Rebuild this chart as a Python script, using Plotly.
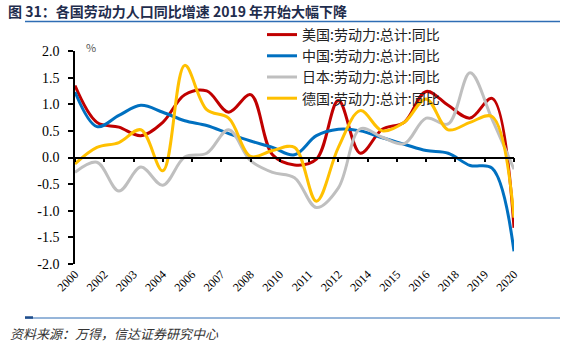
import plotly.graph_objects as go

years = list(range(2000, 2021))
us = [1.35, 0.66, 0.57, 0.41, 0.66, 1.18, 1.25, 0.85, 1.18, 0.05, -0.14, -0.03, 1.07, 0.08, 0.53, 0.66, 1.24, 0.98, 0.74, 1.11, -1.32]
china = [1.23, 0.58, 0.79, 0.98, 0.85, 0.69, 0.60, 0.45, 0.31, 0.19, 0.05, 0.41, 0.53, 0.50, 0.37, 0.25, 0.13, 0.08, -0.15, -0.20, -1.76]
japan = [-0.28, -0.09, -0.63, -0.18, -0.52, 0.01, 0.08, 0.52, -0.06, -0.28, -0.38, -0.94, -0.57, 0.54, 0.38, 0.26, 0.74, 0.63, 1.59, 0.72, -0.22]
germany = [-0.12, 0.19, 0.28, 0.52, -0.25, 1.73, 0.90, 0.74, 0.02, 0.13, 0.19, -0.82, 0.19, 0.88, 0.50, 0.66, 1.10, 0.52, 0.66, 0.77, -1.13]

series_names = ["美国:劳动力:总计:同比", "中国:劳动力:总计:同比", "日本:劳动力:总计:同比", "德国:劳动力:总计:同比"]
series_values = [us, china, japan, germany]
series_colors = ["#C00000", "#0070C0", "#BFBFBF", "#FFC000"]

x_tick_labels = ["2000", "2002", "2003", "2004", "2006", "2007", "2008", "2010",
                 "2011", "2012", "2014", "2015", "2016", "2018", "2019", "2020"]
y_tick_vals = [2.0, 1.5, 1.0, 0.5, 0.0, -0.5, -1.0, -1.5, -2.0]
y_tick_labels = ["2.0", "1.5", "1.0", "0.5", "0.0", "-0.5", "-1.0", "-1.5", "-2.0"]

title_text = "图 31：各国劳动力人口同比增速 2019 年开始大幅下降"
source_text = "资料来源：万得，信达证券研究中心"

# label positions every 16 months across the axis
x_tick_vals = [years[0] + k * (years[-1] - years[0]) / (len(x_tick_labels) - 1) for k in range(len(x_tick_labels))]

W, H = 567, 343
L, R, T, B = 75, 53, 51, 79
PW = W - L - R
PH = H - T - B

def px_x(p):
    return (p - L) / PW

def px_y(p):
    return (H - B - p) / PH

fig = go.Figure()
for name, vals, col in zip(series_names, series_values, series_colors):
    fig.add_trace(go.Scatter(x=years, y=vals, name=name, mode="lines",
                             line=dict(color=col, width=3, shape="spline", smoothing=1.0)))

# helper invisible trace for the zero-line axis
fig.add_trace(go.Scatter(x=[years[0]], y=[0], xaxis="x2", mode="lines",
                         showlegend=False, hoverinfo="skip", line=dict(width=0)))

serif = "Liberation Serif, Times New Roman, serif"
cjk = "Noto Sans CJK SC"

fig.update_layout(
    width=W, height=H,
    margin=dict(l=L, r=R, t=T, b=B, pad=0),
    paper_bgcolor="white", plot_bgcolor="white",
    showlegend=True,
    legend=dict(x=px_x(262), y=px_y(19), xanchor="left", yanchor="top",
                bgcolor="rgba(0,0,0,0)", font=dict(family=cjk, size=14, color="#222"),
                tracegroupgap=0, itemwidth=30),
    title=dict(text="<b>" + title_text + "</b>", x=8 / W, y=1 - 12 / H,
               xref="container", yref="container", xanchor="left", yanchor="middle",
               font=dict(family=cjk, size=14, color="#1F2D4D")),
    xaxis=dict(range=[years[0], years[-1]], tickmode="array", tickvals=x_tick_vals,
               ticktext=x_tick_labels, tickangle=-45, showline=False, showgrid=False,
               zeroline=False, ticks="", tickfont=dict(family=serif, size=12, color="#000")),
    xaxis2=dict(range=[years[0], years[-1]], overlaying="x", anchor="free", position=0.5,
                side="bottom", tickmode="array", tickvals=x_tick_vals, showticklabels=False,
                ticks="outside", ticklen=4, tickwidth=1.5, tickcolor="#000",
                showline=True, linecolor="#000", linewidth=1.5, showgrid=False, zeroline=False),
    yaxis=dict(range=[-2, 2], tickmode="array", tickvals=y_tick_vals, ticktext=y_tick_labels,
               showline=True, linecolor="#000", linewidth=1.5, ticks="outside", ticklen=5,
               tickwidth=1.5, tickcolor="#000", showgrid=False, zeroline=False,
               ticklabelstandoff=6,
               tickfont=dict(family=serif, size=14, color="#000")),
)

fig.add_annotation(text="%", x=px_x(84), y=px_y(37), xref="paper", yref="paper",
                   showarrow=False, font=dict(family=cjk, size=11, color="#555"))
fig.add_annotation(text="<i>" + source_text + "</i>", x=px_x(8), y=px_y(333),
                   xref="paper", yref="paper", showarrow=False, xanchor="left", yanchor="middle",
                   font=dict(family=cjk, size=13, color="#333"))

# title underline and bottom rule
fig.add_shape(type="line", xref="paper", yref="paper", x0=px_x(25), x1=px_x(560),
              y0=px_y(21.5), y1=px_y(21.5), line=dict(color="#2E6DB4", width=1.5))
fig.add_shape(type="line", xref="paper", yref="paper", x0=px_x(25), x1=px_x(560),
              y0=px_y(318), y1=px_y(318), line=dict(color="#2E6DB4", width=1))
fig.add_shape(type="line", xref="paper", yref="paper", x0=px_x(25), x1=px_x(33),
              y0=px_y(317.5), y1=px_y(317.5), line=dict(color="#1F4E8C", width=2.5))

fig.write_html("out.html")
